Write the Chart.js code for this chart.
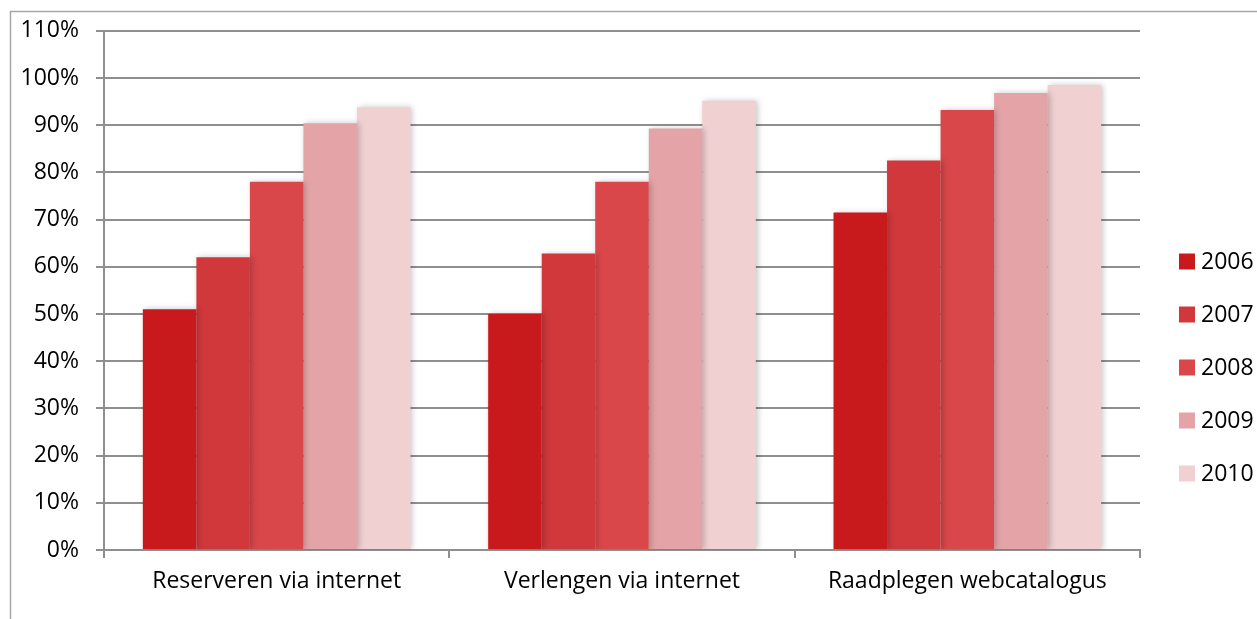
<!DOCTYPE html>
<html>
<head>
<meta charset="utf-8">
<script src="https://cdn.jsdelivr.net/npm/chart.js@4.4.1/dist/chart.umd.min.js"></script>
<style>
  html, body { margin: 0; padding: 0; background: #fff; }
  #wrap { width: 1257px; height: 619px; position: relative; }
</style>
</head>
<body>
<div id="wrap"><canvas id="myChart" width="1257" height="619"></canvas></div>
<script>
// data
var categories = ['Reserveren via internet', 'Verlengen via internet', 'Raadplegen webcatalogus'];
var years = ['2006', '2007', '2008', '2009', '2010'];
var v2006 = [51, 50, 71.5];
var v2007 = [62, 62.8, 82.5];
var v2008 = [78, 78, 93.2];
var v2009 = [90.4, 89.3, 96.8];
var v2010 = [93.8, 95.2, 98.5];
var yTicks = [0, 10, 20, 30, 40, 50, 60, 70, 80, 90, 100, 110];

var colors = ['#c8191c', '#d0383b', '#d9474a', '#e4a4a7', '#f1d0d2'];
var series = [v2006, v2007, v2008, v2009, v2010];
var gridColor = '#8f8f8f';
var fontFam = "'Open Sans', sans-serif";

var datasets = series.map(function(vals, i) {
  return {
    label: years[i],
    data: vals,
    backgroundColor: colors[i],
    borderWidth: 0,
    barPercentage: 1.0,
    categoryPercentage: 0.775
  };
});

// outer frame of the chart object (top and left edges visible)
var framePlugin = {
  id: 'frame',
  beforeDraw: function(chart) {
    var ctx = chart.ctx;
    ctx.save();
    ctx.strokeStyle = '#a6a6a6';
    ctx.lineWidth = 1.5;
    ctx.beginPath();
    ctx.moveTo(10.5, chart.height);
    ctx.lineTo(10.5, 11.5);
    ctx.lineTo(chart.width, 11.5);
    ctx.stroke();
    ctx.restore();
  }
};

// soft shadow behind the bars
var shadowPlugin = {
  id: 'barShadow',
  beforeDatasetsDraw: function(chart) {
    var ctx = chart.ctx;
    ctx.save();
    ctx.shadowColor = 'rgba(0,0,0,0.22)';
    ctx.shadowBlur = 6;
    ctx.shadowOffsetX = 2;
    ctx.shadowOffsetY = 0;
  },
  afterDatasetsDraw: function(chart) {
    chart.ctx.restore();
  }
};

// legend on the right, Excel style
var legendPlugin = {
  id: 'sideLegend',
  afterDraw: function(chart) {
    var ctx = chart.ctx;
    ctx.save();
    ctx.font = '23px ' + fontFam;
    ctx.textBaseline = 'middle';
    ctx.textAlign = 'left';
    chart.data.datasets.forEach(function(ds, i) {
      var cy = 261.5 + i * 53;
      ctx.fillStyle = ds.backgroundColor;
      ctx.fillRect(1179, cy - 8, 16, 16);
      ctx.fillStyle = '#000';
      ctx.fillText(ds.label, 1201, cy + 1);
    });
    ctx.restore();
  }
};

var ctx = document.getElementById('myChart').getContext('2d');
var myChart = new Chart(ctx, {
  type: 'bar',
  data: {
    labels: categories,
    datasets: datasets
  },
  options: {
    responsive: false,
    animation: false,
    devicePixelRatio: 1,
    layout: { padding: { top: 29, right: 117, left: 0, bottom: 0 } },
    plugins: {
      legend: { display: false },
      tooltip: { enabled: false }
    },
    scales: {
      x: {
        afterFit: function(scale) { scale.height = 69; },
        grid: {
          offset: true,
          drawOnChartArea: false,
          drawTicks: true,
          tickLength: 8,
          color: gridColor,
          lineWidth: 2
        },
        border: { display: true, color: gridColor, width: 2 },
        ticks: {
          color: '#000',
          font: { family: fontFam, size: 23 },
          padding: 10,
          maxRotation: 0
        }
      },
      y: {
        min: yTicks[0],
        max: yTicks[yTicks.length - 1],
        afterFit: function(scale) { scale.width = 104; },
        afterBuildTicks: function(scale) {
          scale.ticks = yTicks.map(function(v) { return { value: v }; });
        },
        grid: {
          color: gridColor,
          lineWidth: 2,
          tickLength: 8
        },
        border: { display: true, color: gridColor, width: 2 },
        ticks: {
          color: '#000',
          font: { family: fontFam, size: 23 },
          padding: 17,
          callback: function(v) { return v + '%'; }
        }
      }
    }
  },
  plugins: [framePlugin, shadowPlugin, legendPlugin]
});
</script>
</body>
</html>
